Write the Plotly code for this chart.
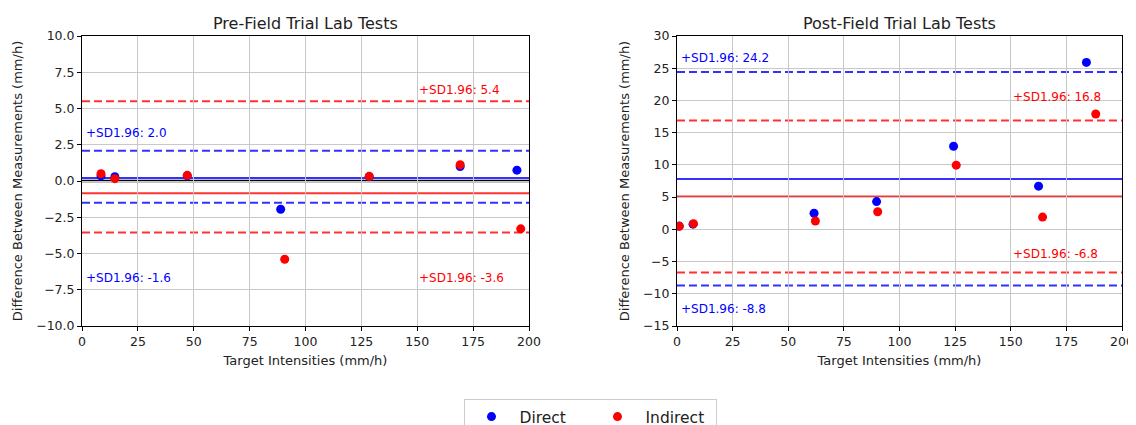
import plotly.graph_objects as go

# ---------------- data ----------------
pre_direct_x = [8.5, 14.7, 47.1, 88.9, 128.5, 169.2, 194.6]
pre_direct_y = [0.35, 0.3, 0.35, -1.95, 0.3, 1.0, 0.75]
pre_indirect_x = [8.5, 14.7, 47.1, 90.7, 128.5, 169.2, 196.3]
pre_indirect_y = [0.5, 0.16, 0.39, -5.4, 0.32, 1.12, -3.3]

post_direct_x = [1.0, 7.2, 61.6, 89.7, 124.3, 162.5, 184.0]
post_direct_y = [0.5, 0.8, 2.5, 4.3, 12.9, 6.7, 25.9]
post_indirect_x = [1.0, 7.4, 62.2, 90.2, 125.5, 164.3, 188.2]
post_indirect_y = [0.46, 0.88, 1.29, 2.73, 9.96, 1.9, 17.9]

# mean lines and limits of agreement (as drawn)
pre_direct_mean, pre_direct_hi, pre_direct_lo = 0.2, 2.08, -1.5
pre_indirect_mean, pre_indirect_hi, pre_indirect_lo = -0.85, 5.5, -3.55
post_direct_mean, post_direct_hi, post_direct_lo = 7.8, 24.4, -8.7
post_indirect_mean, post_indirect_hi, post_indirect_lo = 5.1, 16.9, -6.7

pre_labels = ["+SD1.96: 2.0", "+SD1.96: -1.6", "+SD1.96: 5.4", "+SD1.96: -3.6"]
post_labels = ["+SD1.96: 24.2", "+SD1.96: -8.8", "+SD1.96: 16.8", "+SD1.96: -6.8"]

x_ticks = [0, 25, 50, 75, 100, 125, 150, 175, 200]
pre_y_ticks = [10.0, 7.5, 5.0, 2.5, 0.0, -2.5, -5.0, -7.5, -10.0]
post_y_ticks = [30, 25, 20, 15, 10, 5, 0, -5, -10, -15]

BLUE = "#0000ff"
RED = "#ff0000"
FONT = "DejaVu Sans"

# page has an 8px body margin, so the figure is offset by 8px
W, H = 1128, 417

fig = go.Figure()

def add_points(x, y, color, name, xa, ya, show):
    fig.add_trace(go.Scatter(x=x, y=y, mode="markers", name=name,
                             marker=dict(color=color, size=9),
                             xaxis=xa, yaxis=ya, showlegend=show,
                             legendgroup=name))

add_points(pre_direct_x, pre_direct_y, BLUE, "Direct", "x", "y", True)
add_points(pre_indirect_x, pre_indirect_y, RED, "Indirect", "x", "y", True)
add_points(post_direct_x, post_direct_y, BLUE, "Direct", "x2", "y2", False)
add_points(post_indirect_x, post_indirect_y, RED, "Indirect", "x2", "y2", False)

DASH = "8px,4px"

def hline(y, color, dash, xref, yref, width=2, opacity=0.8):
    fig.add_shape(type="line", xref=xref + " domain", yref=yref,
                  x0=0, x1=1, y0=y, y1=y,
                  line=dict(color=color, width=width, dash=dash),
                  opacity=opacity, layer="below")

# pre
hline(0, "black", "solid", "x", "y", width=2.5, opacity=1)
hline(pre_direct_mean, BLUE, "solid", "x", "y")
hline(pre_indirect_mean, RED, "solid", "x", "y")
hline(pre_direct_hi, BLUE, DASH, "x", "y")
hline(pre_direct_lo, BLUE, DASH, "x", "y")
hline(pre_indirect_hi, RED, DASH, "x", "y")
hline(pre_indirect_lo, RED, DASH, "x", "y")
# post
hline(post_direct_mean, BLUE, "solid", "x2", "y2")
hline(post_indirect_mean, RED, "solid", "x2", "y2")
hline(post_direct_hi, BLUE, DASH, "x2", "y2")
hline(post_direct_lo, BLUE, DASH, "x2", "y2")
hline(post_indirect_hi, RED, DASH, "x2", "y2")
hline(post_indirect_lo, RED, DASH, "x2", "y2")

def label(x, y, text, color, xref, yref):
    fig.add_annotation(x=x, y=y, text=text, xref=xref, yref=yref,
                       showarrow=False, xanchor="left", yanchor="middle",
                       font=dict(family=FONT, size=12, color=color))

label(1.0, 3.3, pre_labels[0], BLUE, "x", "y")
label(1.0, -6.7, pre_labels[1], BLUE, "x", "y")
label(150, 6.25, pre_labels[2], RED, "x", "y")
label(150, -6.7, pre_labels[3], RED, "x", "y")

label(0.8, 26.6, post_labels[0], BLUE, "x2", "y2")
label(0.8, -12.4, post_labels[1], BLUE, "x2", "y2")
label(150, 20.6, post_labels[2], RED, "x2", "y2")
label(150, -3.9, post_labels[3], RED, "x2", "y2")

axis_common = dict(showline=True, linecolor="black", linewidth=1, mirror=True,
                   ticks="outside", ticklen=4, tickcolor="black",
                   showgrid=True, gridcolor="#c8c8c8", gridwidth=1,
                   zeroline=False, automargin=False, ticklabeloverflow="allow",
                   tickfont=dict(family=FONT, size=12.5, color="#222"),
                   title_font=dict(family=FONT, size=13, color="#222"))

dom_y = [1 - 318 / H, 1 - 28 / H]
fig.update_layout(
    width=W, height=H,
    margin=dict(l=0, r=0, t=0, b=0, autoexpand=False),
    paper_bgcolor="white", plot_bgcolor="white",
    font=dict(family=FONT, color="#222"),
    xaxis=dict(domain=[74 / W, 521 / W], range=[0, 200], tickvals=x_ticks,
               title=dict(text="Target Intensities (mm/h)", standoff=7),
               anchor="y", **axis_common),
    yaxis=dict(domain=dom_y, range=[-10, 10], tickvals=pre_y_ticks,
               tickformat=".1f",
               title=dict(text="Difference Between Measurements (mm/h)", standoff=10),
               anchor="x", **axis_common),
    xaxis2=dict(domain=[669 / W, 1114 / W], range=[0, 200], tickvals=x_ticks,
                title=dict(text="Target Intensities (mm/h)", standoff=7),
                anchor="y2", **axis_common),
    yaxis2=dict(domain=dom_y, range=[-15, 30], tickvals=post_y_ticks,
                title=dict(text="Difference Between Measurements (mm/h)", standoff=10),
                anchor="x2", **axis_common),
    legend=dict(orientation="h", x=582 / W, xanchor="center", y=1 - 391 / H, yanchor="top",
                bordercolor="#cccccc", borderwidth=1, bgcolor="white",
                font=dict(family=FONT, size=15.5, color="#222"),
                itemwidth=46, entrywidth=65),
    annotations=list(fig.layout.annotations) + [
        dict(text="Pre-Field Trial Lab Tests", x=(74 + 521) / 2 / W, y=dom_y[1],
             xref="paper", yref="paper",
             yanchor="bottom", xanchor="center", showarrow=False, yshift=1,
             font=dict(family=FONT, size=16, color="#222")),
        dict(text="Post-Field Trial Lab Tests", x=(669 + 1114) / 2 / W, y=dom_y[1],
             xref="paper", yref="paper",
             yanchor="bottom", xanchor="center", showarrow=False, yshift=1,
             font=dict(family=FONT, size=16, color="#222")),
    ],
)

fig.write_html("out.html")
